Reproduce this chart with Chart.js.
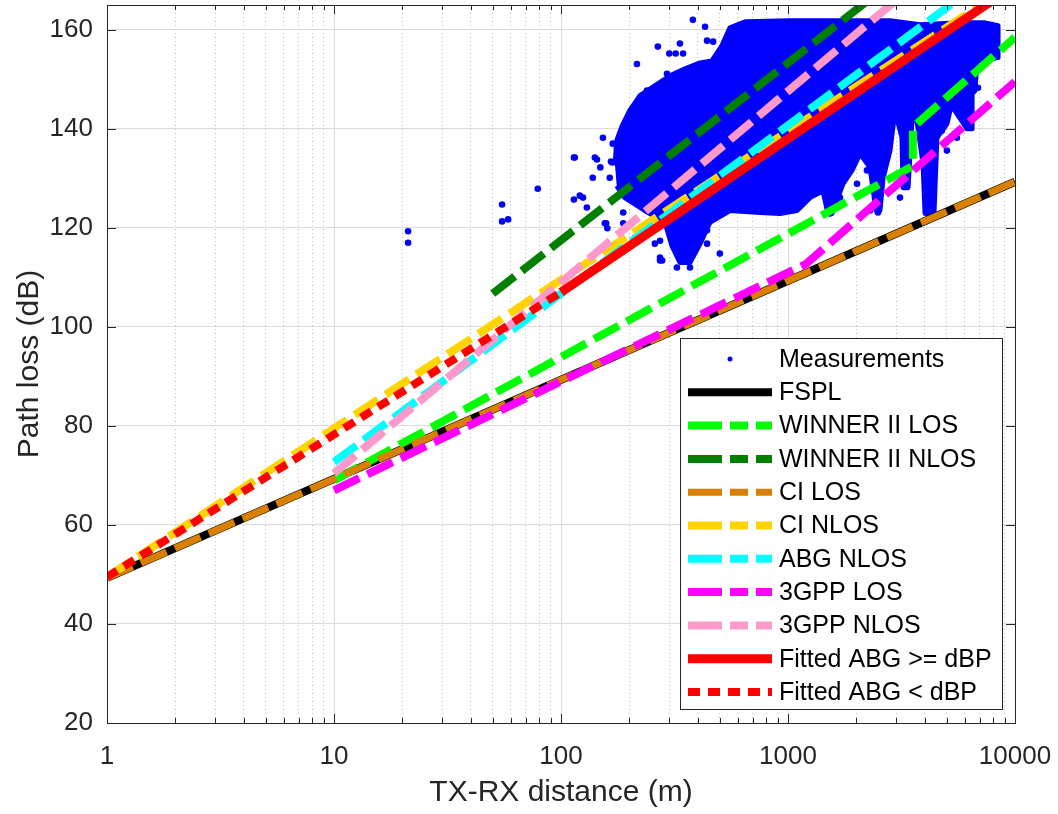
<!DOCTYPE html>
<html>
<head>
<meta charset="utf-8">
<title>Path loss vs distance</title>
<script src="https://cdn.jsdelivr.net/npm/chart.js@4.4.0/dist/chart.umd.min.js"></script>
<style>
  html, body { margin: 0; padding: 0; background: #fff; }
  #wrap { width: 1058px; height: 814px; }
</style>
</head>
<body>
<div id="wrap"><canvas id="chart" width="1058" height="814"></canvas></div>
<script>
// Path loss models vs. TX-RX distance, log x axis.

// ── Axis ticks ──────────────────────────────────────────────────────────────
const X_MAJOR = [1, 10, 100, 1000, 10000];
const Y_TICKS = [20, 40, 60, 80, 100, 120, 140, 160];

const MEAS_D  = [21.2, 21.2, 55, 55, 58.5, 79, 114, 114, 121, 130,
                 144, 166, 158, 160, 115, 141, 153, 168, 156, 188,
                 212, 216, 254, 259, 267, 273, 273, 279, 300, 320,
                 334, 334, 344, 345, 370, 381, 431, 440, 440, 468,
                 1074, 1531, 2490, 3114, 4760, 6870, 7230, 7760, 8100,
                 293, 239, 223, 188, 169, 149, 164, 138, 125, 188,
                 239, 273, 397, 501, 324, 440, 517,
                 1342, 1694, 2014, 2228, 3020, 5012, 5546, 2298];
const MEAS_PL = [119.3, 117.0, 124.7, 121.3, 121.7, 127.9, 134.2, 125.7, 126.5, 124.1,
                 133.8, 133.4, 120.9, 119.9, 134.2, 134.2, 138.2, 133.2, 120.9, 123.1,
                 118.0, 153.1, 120.1, 116.8, 156.6, 113.4, 114.0, 113.4, 155.2, 155.2,
                 157.2, 114.0, 117.4, 155.2, 112.0, 162.0, 160.6, 119.5, 116.8, 157.6,
                 125.1, 122.9, 123.1, 126.1, 139.6, 148.3, 159.4, 157.4, 159.8,
                 151.1, 147.7, 146.3, 140.2, 137.0, 132.2, 130.1, 130.1, 126.1, 120.9,
                 124.9, 117.4, 118.0, 114.8, 112.0, 157.8, 155.8,
                 130.1, 126.1, 128.9, 131.6, 128.9, 135.6, 138.2, 123.5];

// Outline of the dense part of the measurement cloud (too dense to list dot by dot)
const CLOUD_D  = [173, 176, 186, 201, 223, 259, 302, 352, 410, 462,
                  512, 555, 647, 1021, 2813, 3814, 5724, 7380, 8420, 8420,
                  6800, 6664, 6470, 6470, 6150, 5330, 5173, 5012, 4530, 4397,
                  4015, 3935, 3700, 3517, 3378, 3212, 3178, 2960, 2813, 2624,
                  2541, 2443, 2298, 2076, 1914, 1746, 1563, 1500, 1426, 1250,
                  1096, 922, 753, 555, 453, 410, 370, 334, 308, 287,
                  234, 191, 176];
const CLOUD_PL = [132.6, 137.6, 140.6, 143.7, 146.7, 148.7, 150.7, 152.1, 153.3, 153.7,
                  156.8, 160.4, 161.6, 161.8, 161.8, 161.0, 161.4, 161.4, 160.8, 154.4,
                  153.7, 147.7, 147.1, 140.0, 140.0, 144.3, 143.7, 141.0, 138.2, 122.9,
                  122.9, 133.0, 141.6, 141.6, 128.1, 128.1, 138.2, 143.7, 135.6, 130.1,
                  123.5, 123.5, 132.2, 135.0, 131.6, 128.9, 122.9, 122.9, 127.5, 126.1,
                  123.5, 122.9, 123.1, 123.5, 121.1, 116.8, 113.0, 113.0, 116.4, 121.1,
                  123.5, 126.1, 128.5];

// ── Models (distance m, path loss dB) ───────────────────────────────────────
const FSPL_D      = [1, 10000];
const FSPL_PL     = [49.3, 129.3];
const W2_LOS_D    = [10, 3550, 3550, 10000];
const W2_LOS_PL   = [69.0, 132.5, 140.3, 158.5];
const W2_NLOS_D   = [50, 10000];
const W2_NLOS_PL  = [106.7, 189.1];
const CI_LOS_D    = [1, 10000];
const CI_LOS_PL   = [49.3, 129.3];
const CI_NLOS_D   = [1, 10000];
const CI_NLOS_PL  = [49.5, 169.5];
const ABG_NLOS_D  = [10, 10000];
const ABG_NLOS_PL = [72.7, 174.7];
const G3_LOS_D    = [10, 1200, 10000];
const G3_LOS_PL   = [67.0, 112.7, 149.5];
const G3_NLOS_D   = [10, 10000];
const G3_NLOS_PL  = [70.4, 186.2];
const FIT_HI_D    = [100, 10000];
const FIT_HI_PL   = [107.0, 169.0];
const FIT_LO_D    = [1, 100];
const FIT_LO_PL   = [49.5, 107.0];

const FONT = "'Liberation Sans', Arial, Helvetica, sans-serif";
const INK  = '#262626';
const DASH = [28, 9];

function pts(xs, ys) { return xs.map((x, i) => ({ x: x, y: ys[i] })); }
function isMajor(v) { return Math.abs(Math.log10(v) - Math.round(Math.log10(v))) < 1e-9; }

function modelDs(label, xs, ys, color, width, dash, order) {
  return {
    label: label, data: pts(xs, ys), showLine: true, clip: 0,
    borderColor: color, backgroundColor: color, borderWidth: width,
    borderDash: dash, borderCapStyle: 'butt', pointRadius: 0, pointHoverRadius: 0,
    order: order
  };
}

const datasets = [
  { label: 'Measurements', data: pts(MEAS_D, MEAS_PL), showLine: false, clip: 0,
    pointRadius: 3.3, pointBorderWidth: 0, pointBackgroundColor: '#0000ff',
    borderColor: '#0000ff', backgroundColor: '#0000ff', order: 50 },
  modelDs('FSPL',               FSPL_D,     FSPL_PL,     '#000000', 8, [],      20),
  modelDs('WINNER II LOS',      W2_LOS_D,   W2_LOS_PL,   '#00ff00', 8, DASH,    19),
  modelDs('WINNER II NLOS',     W2_NLOS_D,  W2_NLOS_PL,  '#007f00', 8, DASH,    18),
  modelDs('CI LOS',             CI_LOS_D,   CI_LOS_PL,   '#d98000', 7, DASH,    17),
  modelDs('CI NLOS',            CI_NLOS_D,  CI_NLOS_PL,  '#ffd400', 8, DASH,    16),
  modelDs('ABG NLOS',           ABG_NLOS_D, ABG_NLOS_PL, '#00ffff', 8, DASH,    15),
  modelDs('3GPP LOS',           G3_LOS_D,   G3_LOS_PL,   '#ff00ff', 8, DASH,    14),
  modelDs('3GPP NLOS',          G3_NLOS_D,  G3_NLOS_PL,  '#ff99cc', 8, DASH,    13),
  modelDs('Fitted ABG >= dBP',  FIT_HI_D,   FIT_HI_PL,   '#ff0000', 9, [],      12),
  modelDs('Fitted ABG < dBP',   FIT_LO_D,   FIT_LO_PL,   '#ff0000', 8, [12, 8], 11),
  { label: 'cloud', noLegend: true, data: pts(CLOUD_D, CLOUD_PL), showLine: true, clip: 0,
    fill: 'shape', backgroundColor: '#0000ff', borderColor: '#0000ff', borderWidth: 5,
    borderJoinStyle: 'round', pointRadius: 0, order: 60 }
];

// ── Plugins: inner ticks + axes box, boxed legend ───────────────────────────
const framePlugin = {
  id: 'frame',
  afterDatasetsDraw(chart) {
    const { ctx, chartArea: a, scales } = chart;
    ctx.save();
    ctx.strokeStyle = INK;
    ctx.lineWidth = 1;
    ctx.beginPath();
    scales.x.ticks.forEach(t => {
      const px = Math.round(scales.x.getPixelForValue(t.value)) + 0.5;
      const len = isMajor(t.value) ? 9 : 5;
      ctx.moveTo(px, a.bottom); ctx.lineTo(px, a.bottom - len);
      ctx.moveTo(px, a.top);    ctx.lineTo(px, a.top + len);
    });
    scales.y.ticks.forEach(t => {
      const py = Math.round(scales.y.getPixelForValue(t.value)) + 0.5;
      ctx.moveTo(a.left, py);  ctx.lineTo(a.left + 9, py);
      ctx.moveTo(a.right, py); ctx.lineTo(a.right - 9, py);
    });
    ctx.stroke();
    ctx.strokeRect(Math.round(a.left) + 0.5, Math.round(a.top) + 0.5,
                   Math.round(a.right - a.left), Math.round(a.bottom - a.top));
    ctx.restore();
  }
};

const legendPlugin = {
  id: 'boxLegend',
  afterDraw(chart) {
    const { ctx, chartArea: a } = chart;
    const items = chart.data.datasets.filter(d => !d.noLegend);
    const w = 322, h = 371;
    const x0 = Math.round(a.right - 13 - w), y0 = Math.round(a.bottom - 14 - h);
    ctx.save();
    ctx.fillStyle = '#ffffff';
    ctx.fillRect(x0, y0, w, h);
    ctx.strokeStyle = INK;
    ctx.lineWidth = 1;
    ctx.strokeRect(x0 + 0.5, y0 + 0.5, w, h);
    ctx.font = '25px ' + FONT;
    ctx.textBaseline = 'middle';
    ctx.textAlign = 'left';
    items.forEach((d, i) => {
      const y = y0 + 21 + i * 33.3;
      if (!d.showLine) {
        ctx.fillStyle = d.pointBackgroundColor;
        ctx.beginPath();
        ctx.arc(x0 + 50, y, 2.5, 0, Math.PI * 2);
        ctx.fill();
      } else {
        ctx.strokeStyle = d.borderColor;
        ctx.lineWidth = d.borderWidth;
        ctx.lineCap = 'butt';
        ctx.setLineDash(d.borderDash.length === 2 && d.borderDash[0] > 20 ? [34, 8, 18, 8] : d.borderDash);
        ctx.beginPath();
        ctx.moveTo(x0 + 8, y);
        ctx.lineTo(x0 + 92, y);
        ctx.stroke();
        ctx.setLineDash([]);
      }
      ctx.fillStyle = '#000000';
      ctx.fillText(d.label, x0 + 99, y + 1);
    });
    ctx.restore();
  }
};

new Chart(document.getElementById('chart').getContext('2d'), {
  type: 'scatter',
  data: { datasets: datasets },
  plugins: [framePlugin, legendPlugin],
  options: {
    responsive: false,
    animation: false,
    events: [],
    layout: { padding: { top: 5, right: 43, left: 0, bottom: 0 } },
    plugins: { legend: { display: false }, tooltip: { enabled: false } },
    scales: {
      x: {
        type: 'logarithmic', min: 1, max: 10000,
        afterBuildTicks: s => {
          const ticks = [];
          X_MAJOR.forEach((m, i) => {
            ticks.push({ value: m });
            if (i < X_MAJOR.length - 1) for (let k = 2; k <= 9; k++) ticks.push({ value: m * k });
          });
          s.ticks = ticks;
        },
        afterFit: s => { s.height = 91; s.paddingLeft = 0; s.paddingRight = 0; },
        grid: {
          color: c => (c.tick && isMajor(c.tick.value)) ? '#dcdcdc' : '#bdbdbd',
          lineWidth: 1, drawTicks: false
        },
        border: { display: false, dash: c => (c.tick && isMajor(c.tick.value)) ? [] : [1, 3] },
        ticks: {
          autoSkip: false, maxRotation: 0, padding: 18, color: INK,
          font: { family: FONT, size: 26 },
          callback: v => X_MAJOR.includes(v) ? String(v) : ''
        },
        title: { display: true, text: 'TX-RX distance (m)', color: INK,
                 font: { family: FONT, size: 30 }, padding: { top: 0, bottom: 3 } }
      },
      y: {
        type: 'linear', min: 20, max: 165,
        afterBuildTicks: s => { s.ticks = Y_TICKS.map(v => ({ value: v })); },
        afterFit: s => { s.width = 107; s.paddingTop = 0; s.paddingBottom = 0; },
        grid: { color: '#dcdcdc', lineWidth: 1, drawTicks: false },
        border: { display: false },
        ticks: { padding: 14, color: INK, font: { family: FONT, size: 26 } },
        title: { display: true, text: 'Path loss (dB)', color: INK,
                 font: { family: FONT, size: 30 }, padding: { top: 12, bottom: 0 } }
      }
    }
  }
});
</script>
</body>
</html>
